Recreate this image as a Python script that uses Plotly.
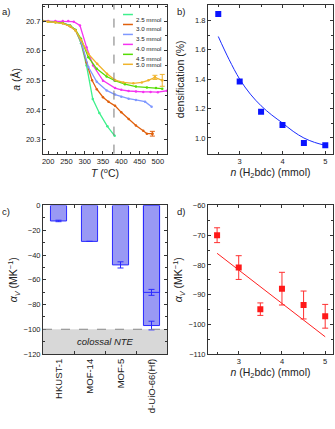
import plotly.graph_objects as go

# ---- panel a: lattice parameter vs temperature ----
a_labels = ["2.5 mmol", "3.0 mmol", "3.5 mmol", "4.0 mmol", "4.5 mmol", "5.0 mmol"]
a_colors = ["#3ff08c", "#e0600c", "#7f98ff", "#f533f0", "#55dd05", "#f0b42c"]

t_25 = [185, 200, 220, 240, 260, 275, 290, 305, 322, 340, 362, 382]
a_25 = [20.700, 20.699, 20.697, 20.694, 20.685, 20.670, 20.625, 20.550, 20.437, 20.390, 20.345, 20.313]

t_30 = [185, 200, 220, 240, 260, 275, 290, 305, 320, 333, 350, 365, 383, 400, 420, 440, 460, 470, 485]
a_30 = [20.700, 20.699, 20.697, 20.693, 20.682, 20.668, 20.630, 20.560, 20.500, 20.470, 20.443, 20.428,
        20.414, 20.392, 20.370, 20.348, 20.330, 20.320, 20.320]

t_35 = [185, 200, 220, 240, 260, 275, 290, 310, 333, 360, 383, 400, 420, 440, 465, 483]
a_35 = [20.700, 20.699, 20.697, 20.694, 20.684, 20.670, 20.632, 20.545, 20.495, 20.466, 20.452, 20.445,
        20.438, 20.434, 20.428, 20.411]

t_40 = [185, 200, 220, 240, 255, 270, 287, 305, 323, 350, 383, 400, 420, 440, 460, 480, 500, 525]
a_40 = [20.700, 20.700, 20.700, 20.700, 20.700, 20.698, 20.685, 20.612, 20.550, 20.499, 20.474, 20.468,
        20.464, 20.462, 20.461, 20.461, 20.460, 20.465]

t_45 = [185, 200, 220, 240, 260, 275, 290, 310, 333, 360, 383, 410, 440, 470, 495, 512]
a_45 = [20.700, 20.698, 20.696, 20.693, 20.684, 20.670, 20.640, 20.578, 20.539, 20.513, 20.499, 20.487,
        20.479, 20.476, 20.474, 20.472]

t_50 = [185, 200, 220, 240, 260, 275, 290, 310, 334, 361, 383, 406, 433, 456, 474, 492, 512]
a_50 = [20.700, 20.698, 20.696, 20.692, 20.683, 20.668, 20.636, 20.589, 20.556, 20.522, 20.501, 20.493,
        20.490, 20.493, 20.500, 20.510, 20.500]

# end points with error bars
err_t_30 = [485]
err_a_30 = [20.320]
err_e_30 = [0.008]
err_t_50 = [492, 512]
err_a_50 = [20.510, 20.500]
err_e_50 = [0.007, 0.02]

t_cut = 380

# ---- panel b: densification ----
n_b = [2.5, 3.0, 3.5, 4.0, 4.5, 5.0]
dens = [1.843, 1.384, 1.178, 1.088, 0.966, 0.950]
fit_n_b = [2.5, 2.75, 3.0, 3.25, 3.5, 3.75, 4.0, 4.25, 4.5, 4.75, 5.0]
fit_dens = [1.69, 1.535, 1.40, 1.298, 1.219, 1.156, 1.102, 1.045, 1.0, 0.97, 0.95]

# ---- panel c: alpha_V of MOFs ----
mofs = ["HKUST-1", "MOF-14", "MOF-5", "d-UiO-66(Hf)"]
alpha_v = [-12.5, -29, -48, -97]
alpha_err = [0.6, 0, 2.5, 3.5]
uio_low = [-70.2]
uio_low_err = [2.4]

# ---- panel d: alpha_V vs n ----
n_d = [2.5, 3.0, 3.5, 4.0, 4.5, 5.0]
alpha_d = [-70.0, -80.9, -94.9, -88.0, -93.5, -97.3]
alpha_d_err = [2.5, 4.0, 2.1, 5.5, 4.7, 4.0]
fit_n_d = [2.5, 5.0]
fit_alpha_d = [-76.1, -104.2]

FONT = "Liberation Sans, Arial, sans-serif"
INK = "#222"

fig = go.Figure()

series_a = [(t_25, a_25), (t_30, a_30), (t_35, a_35), (t_40, a_40), (t_45, a_45), (t_50, a_50)]
for (tx, ay), name, col in zip(series_a, a_labels, a_colors):
    fig.add_trace(go.Scatter(x=tx, y=ay, mode="lines+markers", name=name,
                             line=dict(color=col, width=1.3), marker=dict(size=2.5, color=col),
                             xaxis="x", yaxis="y", showlegend=False))
for tx, ay, ee, col in [(err_t_30, err_a_30, err_e_30, a_colors[1]), (err_t_50, err_a_50, err_e_50, a_colors[5])]:
    fig.add_trace(go.Scatter(x=tx, y=ay, mode="markers", marker=dict(size=2.5, color=col),
                             error_y=dict(type="data", array=ee, color=col, thickness=1, width=2.5),
                             xaxis="x", yaxis="y", showlegend=False))

fig.add_trace(go.Scatter(x=fit_n_b, y=fit_dens, mode="lines", line=dict(color="#1a2cff", width=1, shape="spline"),
                         xaxis="x2", yaxis="y2", showlegend=False))
fig.add_trace(go.Scatter(x=n_b, y=dens, mode="markers", marker=dict(symbol="square", size=6, color="#0a14ff"),
                         xaxis="x2", yaxis="y2", showlegend=False))

fig.add_trace(go.Bar(x=mofs, y=alpha_v, width=0.52, marker=dict(color="rgba(110,110,240,0.7)",
                                                               line=dict(color="#2a2aff", width=1)),
                     error_y=dict(type="data", array=alpha_err, color="#2a2aff", thickness=1, width=3),
                     xaxis="x3", yaxis="y3", showlegend=False))
fig.add_trace(go.Bar(x=[mofs[3]], y=uio_low, width=0.52, marker=dict(color="rgba(0,0,0,0)",
                                                                   line=dict(color="#2a2aff", width=1)),
                     error_y=dict(type="data", array=uio_low_err, color="#2a2aff", thickness=1, width=3),
                     xaxis="x3", yaxis="y3", showlegend=False))

fig.add_trace(go.Scatter(x=fit_n_d, y=fit_alpha_d, mode="lines", line=dict(color="#ff2020", width=1),
                         xaxis="x4", yaxis="y4", showlegend=False))
fig.add_trace(go.Scatter(x=n_d, y=alpha_d, mode="markers", marker=dict(symbol="square", size=6, color="#ff1818"),
                         error_y=dict(type="data", array=alpha_d_err, color="#ff3030", thickness=1, width=3),
                         xaxis="x4", yaxis="y4", showlegend=False))


def ax(domain, rng, **kw):
    d = dict(domain=domain, range=rng, showline=True, linecolor="#333", linewidth=1, mirror="allticks",
             ticks="inside", ticklen=3, tickcolor="#333", tickwidth=1, showgrid=False, zeroline=False,
             automargin=False,
             tickfont=dict(size=7.5, color=INK, family=FONT),
             title_font=dict(size=10.5, color=INK, family=FONT))
    d.update(kw)
    return d


x_a = [0.1284, 0.4985]
x_b = [0.6209, 0.9940]
y_top = [0.6420, 0.9883]
y_bot = [0.1748, 0.5210]

fig.update_layout(
    width=335, height=429, margin=dict(l=0, r=0, t=0, b=0),
    paper_bgcolor="white", plot_bgcolor="white", barmode="overlay",
    font=dict(family=FONT, color=INK),
    xaxis=ax(x_a, [186, 525], anchor="y", dtick=50, tick0=200, minor=dict(ticks="inside", ticklen=2, dtick=25),
             title=dict(text="<i>T</i> (<sup>o</sup>C)", standoff=3)),
    yaxis=ax(y_top, [20.253, 20.754], anchor="x", dtick=0.1, tickformat=".1f",
             minor=dict(ticks="inside", ticklen=2, dtick=0.05),
             title=dict(text="<i>a</i> (Å)", standoff=3)),
    xaxis2=ax(x_b, [2.26, 5.18], anchor="y2", dtick=1, tick0=3, minor=dict(ticks="inside", ticklen=2, dtick=0.5),
              title=dict(text="<i>n</i> (H<sub>2</sub>bdc) (mmol)", standoff=3)),
    yaxis2=ax(y_top, [0.894, 1.904], anchor="x2", dtick=0.2, tickformat=".1f",
              minor=dict(ticks="inside", ticklen=2, dtick=0.1),
              title=dict(text="densification (%)", standoff=8)),
    xaxis3=ax(x_a, [-0.5, 3.5], anchor="y3", type="category", tickson="boundaries", tickangle=-90,
              tickfont=dict(size=9.5, color=INK, family=FONT)),
    yaxis3=ax(y_bot, [-120, 0], anchor="x3", dtick=20, minor=dict(ticks="inside", ticklen=2, dtick=10),
              title=dict(text="<i>α<sub>V</sub></i> (MK<sup>−1</sup>)", standoff=3)),
    xaxis4=ax(x_b, [2.29, 5.18], anchor="y4", dtick=1, tick0=3, minor=dict(ticks="inside", ticklen=2, dtick=0.5),
              title=dict(text="<i>n</i> (H<sub>2</sub>bdc) (mmol)", standoff=3)),
    yaxis4=ax(y_bot, [-110, -60], anchor="x4", dtick=10, minor=dict(ticks="inside", ticklen=2, dtick=5),
              title=dict(text="<i>α<sub>V</sub></i> (MK<sup>−1</sup>)", standoff=3)),
)

# dashed cut line in panel a
fig.add_shape(type="line", xref="x", yref="y domain", x0=t_cut, x1=t_cut, y0=0, y1=1,
              line=dict(color="#777", width=1, dash="dash"))

# colossal NTE region in panel c
fig.add_shape(type="rect", xref="x3 domain", yref="y3", x0=0, x1=1, y0=-120, y1=-100,
              fillcolor="#d8d8d8", line=dict(width=0), layer="below")
fig.add_shape(type="line", xref="x3 domain", yref="y3", x0=0, x1=1, y0=-100, y1=-100,
              line=dict(color="#888", width=1, dash="dash"))
fig.add_annotation(text="<i>colossal NTE</i>", xref="x3 domain", yref="y3", x=0.5, y=-110,
                   showarrow=False, font=dict(size=9.5, color=INK, family=FONT))

# legend for panel a, drawn by hand so it fits the small panel
for i, (name, col) in enumerate(zip(a_labels, a_colors)):
    yy = 0.936 - i * 0.067
    fig.add_shape(type="line", xref="x domain", yref="y domain", x0=0.645, x1=0.725, y0=yy, y1=yy,
                  line=dict(color=col, width=1.5))
    fig.add_annotation(text=name, xref="x domain", yref="y domain", x=0.74, y=yy, xanchor="left",
                       showarrow=False, borderpad=0, font=dict(size=6.2, color=INK, family=FONT))

for lbl, xx, yy in [("a)", 0.0, 0.99), ("b)", 0.523, 0.99), ("c)", 0.0, 0.525), ("d)", 0.523, 0.525)]:
    fig.add_annotation(text=lbl, xref="paper", yref="paper", x=xx, y=yy, xanchor="left", yanchor="top",
                       showarrow=False, font=dict(size=9.5, color=INK, family=FONT))

# the page body has a default 8px margin; drop it so the figure fills the window
fig.write_html("out.html", config={"displayModeBar": False},
               post_script="document.body.style.margin='0';")
